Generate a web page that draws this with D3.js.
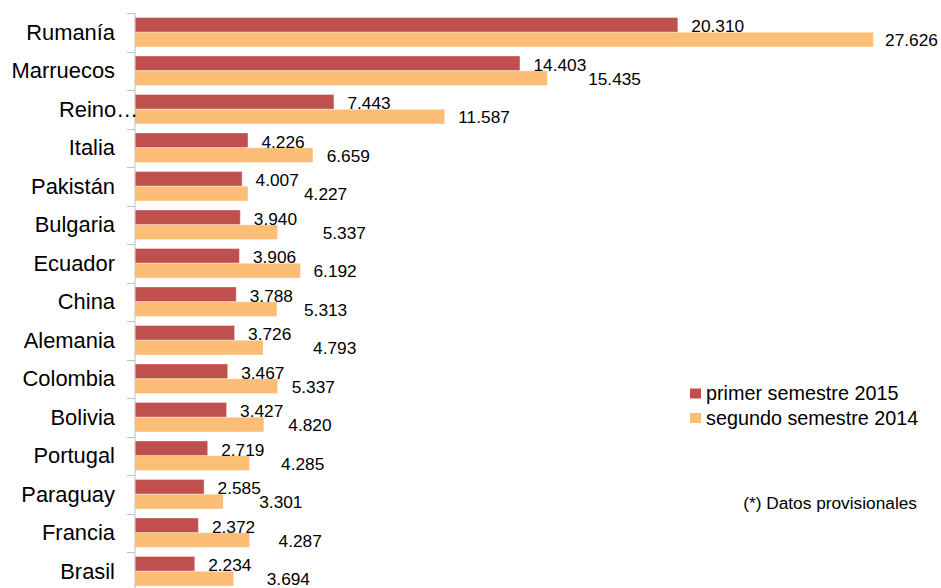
<!DOCTYPE html>
<html>
<head>
<meta charset="utf-8">
<script src="https://cdn.jsdelivr.net/npm/d3@7"></script>
<style>
  html, body { margin: 0; padding: 0; background: #fff; }
  svg { display: block; font-family: "Liberation Sans", Arial, sans-serif; }
</style>
</head>
<body>
<svg id="chart" width="941" height="588"></svg>
<script>
// ---- data ----
const categories = ["Rumanía", "Marruecos", "Reino…", "Italia", "Pakistán", "Bulgaria", "Ecuador",
  "China", "Alemania", "Colombia", "Bolivia", "Portugal", "Paraguay", "Francia", "Brasil"];
const primer2015 = [20310, 14403, 7443, 4226, 4007, 3940, 3906, 3788, 3726, 3467, 3427, 2719, 2585, 2372, 2234];
const segundo2014 = [27626, 15435, 11587, 6659, 4227, 5337, 6192, 5313, 4793, 5337, 4820, 4285, 3301, 4287, 3694];
const seriesNames = ["primer semestre 2015", "segundo semestre 2014"];
const footnote = "(*) Datos provisionales";

// ---- layout (label nudges, px) ----
const segundoLabelDx = [11.7, 40.6, 13.6, 13.7, 56, 45, 13, 27, 50, 14, 24.5, 31.5, 36, 29, 33];
const colors = ["#C0504D", "#FCBE77"];

const svg = d3.select("#chart");
const fmt = d3.formatLocale({ decimal: ",", thousands: ".", grouping: [3], currency: ["", "€"] }).format(",.0f");

const axisX = 135;
const x = d3.scaleLinear().domain([0, 30000]).range([axisX, 936.8]);
const y = d3.scaleBand().domain(categories).range([13, 590.5]).paddingInner(0).paddingOuter(0);
const bw = y.bandwidth();
const pad = 4.5;
const barH = (bw - 2 * pad) / 2;

const rows = categories.map((c, i) => ({ c, i, a: primer2015[i], b: segundo2014[i] }));

// bars
const g = svg.append("g");
g.selectAll("rect.a").data(rows).join("rect")
  .attr("x", axisX).attr("y", d => y(d.c) + pad)
  .attr("width", d => x(d.a) - axisX).attr("height", barH)
  .attr("fill", colors[0]).attr("stroke", "rgba(255,255,255,0.35)").attr("stroke-width", 1);
g.selectAll("rect.b").data(rows).join("rect")
  .attr("x", axisX).attr("y", d => y(d.c) + pad + barH)
  .attr("width", d => x(d.b) - axisX).attr("height", barH)
  .attr("fill", colors[1]).attr("stroke", "rgba(255,255,255,0.35)").attr("stroke-width", 1);

// axis line + ticks
svg.append("line").attr("x1", axisX).attr("x2", axisX).attr("y1", 13).attr("y2", 590.5)
  .attr("stroke", "#BFBFBF").attr("stroke-width", 1);
svg.selectAll("line.tick").data(categories).join("line")
  .attr("x1", axisX - 8).attr("x2", axisX).attr("y1", d => Math.round(y(d)) + 0.5).attr("y2", d => Math.round(y(d)) + 0.5)
  .attr("stroke", "#BFBFBF").attr("stroke-width", 1);

// category labels
svg.selectAll("text.cat").data(rows).join("text")
  .attr("x", d => d.c.endsWith("…") ? 59 : 115)
  .attr("text-anchor", d => d.c.endsWith("…") ? "start" : "end")
  .attr("y", d => y(d.c) + bw / 2).attr("dy", "0.35em")
  .attr("font-size", "21.9px").attr("fill", "#000")
  .text(d => d.c);

// value labels
svg.selectAll("text.va").data(rows).join("text")
  .attr("x", d => x(d.a) + 13.5)
  .attr("y", d => y(d.c) + pad + barH / 2 + 1.5).attr("dy", "0.35em")
  .attr("font-size", "17.3px").attr("fill", "#000")
  .text(d => fmt(d.a));
svg.selectAll("text.vb").data(rows).join("text")
  .attr("x", d => x(d.b) + segundoLabelDx[d.i])
  .attr("y", d => y(d.c) + pad + barH * 1.5 + 0.5).attr("dy", "0.35em")
  .attr("font-size", "17.3px").attr("fill", "#000")
  .text(d => fmt(d.b));

// legend
const lg = svg.append("g");
seriesNames.forEach((s, i) => {
  const cy = 393.5 + i * 24.5;
  lg.append("rect").attr("x", 690).attr("y", cy - 5).attr("width", 11).attr("height", 10).attr("fill", colors[i]);
  lg.append("text").attr("x", 706).attr("y", cy).attr("dy", "0.35em")
    .attr("font-size", "19.8px").attr("fill", "#000").text(s);
});

// footnote
svg.append("text").attr("x", 917).attr("y", 503).attr("dy", "0.35em").attr("text-anchor", "end")
  .attr("font-size", "17.3px").attr("fill", "#000").text(footnote);
</script>
</body>
</html>
